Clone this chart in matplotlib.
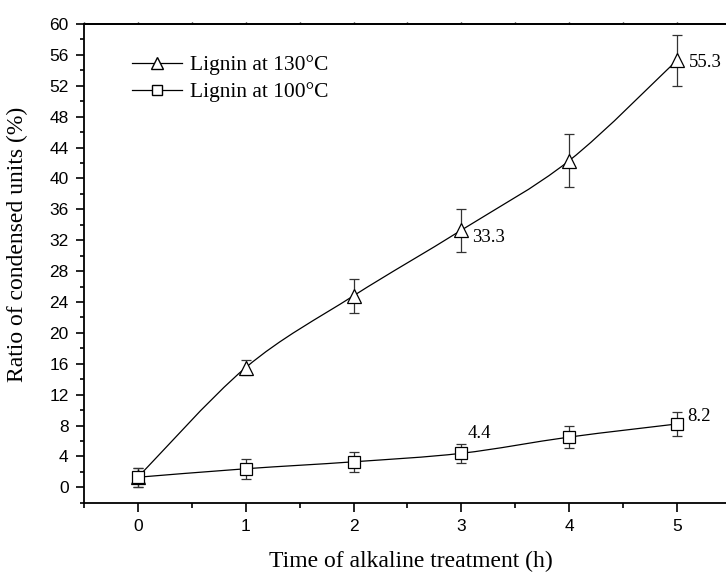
import numpy as np
import matplotlib.pyplot as plt
from matplotlib.path import Path
from matplotlib.patches import PathPatch
from matplotlib.lines import Line2D

# DATOS
tiempo = [0, 1, 2, 3, 4, 5]
lignina_130 = [1.3, 15.5, 24.8, 33.3, 42.3, 55.3]
error_130 = [1.2, 1.0, 2.2, 2.8, 3.4, 3.3]
lignina_100 = [1.3, 2.4, 3.3, 4.4, 6.5, 8.2]
error_100 = [1.2, 1.3, 1.3, 1.2, 1.4, 1.5]

# etiquetas de valores: (x, y, texto)
etiquetas = [(5.11, 55.0, "55.3"), (3.1, 32.3, "33.3"),
             (3.06, 7.0, "4.4"), (5.1, 9.2, "8.2")]

SERIF = "Liberation Serif"
SANS = "Liberation Sans"


def curva_suave(x, y):
    """Path Bezier (Catmull-Rom) que pasa por los puntos."""
    p = np.column_stack([x, y]).astype(float)
    ext = np.vstack([p[0], p, p[-1]])
    verts = [p[0]]
    codes = [Path.MOVETO]
    for i in range(len(p) - 1):
        p0, p1, p2, p3 = ext[i], ext[i + 1], ext[i + 2], ext[i + 3]
        c1 = p1 + (p2 - p0) / 6.0
        c2 = p2 - (p3 - p1) / 6.0
        verts += [c1, c2, p2]
        codes += [Path.CURVE4] * 3
    return Path(verts, codes)


fig = plt.figure(figsize=(7.26, 5.75), dpi=100)
ax = fig.add_axes([0.1157, 0.1257, 0.891, 0.8326])

for ys, es, mk, ms in [(lignina_130, error_130, "^", 10),
                       (lignina_100, error_100, "s", 8.5)]:
    ax.add_patch(PathPatch(curva_suave(tiempo, ys), facecolor="none",
                           edgecolor="black", lw=0.9, zorder=2))
    ax.errorbar(tiempo, ys, yerr=es, fmt="none", ecolor="#333333",
                elinewidth=0.9, capsize=3.5, capthick=0.9, zorder=3)
    ax.plot(tiempo, ys, linestyle="none", marker=mk, markersize=ms,
            markerfacecolor="white", markeredgecolor="black",
            markeredgewidth=0.9, zorder=4)

for x, y, t in etiquetas:
    ax.text(x, y, t, fontsize=13.5, family=SERIF, va="center", ha="left")

ax.set_xlim(-0.5, 5.5)
ax.set_ylim(-2, 60)
ax.set_xticks(tiempo)
ax.set_xticks(np.arange(-0.5, 5.6, 0.5), minor=True)
ax.set_yticks(np.arange(0, 61, 4))
ax.set_yticks(np.arange(-2, 61, 2), minor=True)

ax.spines["right"].set_visible(False)
for s in ax.spines.values():
    s.set_linewidth(1.3)

ax.tick_params(axis="x", which="major", direction="out", length=6.5,
               width=1.2, pad=5)
ax.tick_params(axis="x", which="minor", direction="out", length=3.5,
               width=1.2)
ax.tick_params(axis="y", which="major", direction="out", length=6,
               width=1.2, pad=5)
ax.tick_params(axis="y", which="minor", direction="out", length=3,
               width=1.2)
for lbl in ax.get_xticklabels() + ax.get_yticklabels():
    lbl.set_fontfamily(SANS)
    lbl.set_fontsize(12.5)

# marcas diminutas en el eje superior
arriba = ax.secondary_xaxis("top")
arriba.set_xticks(tiempo)
arriba.set_xticks(np.arange(-0.5, 5.6, 0.5), minor=True)
arriba.tick_params(which="both", direction="out", length=1.5, width=1.0,
                   labeltop=False)
arriba.spines["top"].set_linewidth(1.3)

ax.set_xlabel("Time of alkaline treatment (h)", fontsize=17, family=SERIF)
ax.xaxis.set_label_coords(0.505, -0.1)
ax.set_ylabel("Ratio of condensed units (%)", fontsize=17, family=SERIF)
ax.yaxis.set_label_coords(-0.087, 0.54)

manejadores = [
    Line2D([], [], color="black", lw=0.9, marker="^", markersize=9,
           markerfacecolor="white", markeredgecolor="black"),
    Line2D([], [], color="black", lw=0.9, marker="s", markersize=7.5,
           markerfacecolor="white", markeredgecolor="black"),
]
ax.legend(manejadores, ["Lignin at 130\u00b0C", "Lignin at 100\u00b0C"],
          loc="upper left", bbox_to_anchor=(0.045, 0.975), frameon=False,
          handlelength=2.3, handletextpad=0.35, labelspacing=0.32,
          prop={"family": SERIF, "size": 15.5})

fig.savefig("out.png", dpi=100)
